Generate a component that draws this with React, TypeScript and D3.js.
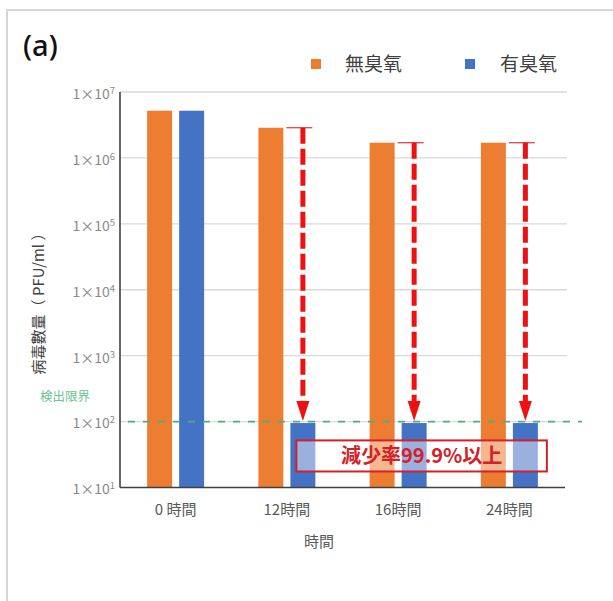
import React from "react";
import * as d3 from "d3";

const categories = ["0 時間", "12時間", "16時間", "24時間"];
const seriesNames = ["無臭氧", "有臭氧"];
const seriesColors = ["#ed7d31", "#4472c4"];
const noOzone = [5.2e6, 2.87e6, 1.7e6, 1.7e6];
const withOzone = [5.2e6, 95, 95, 95];
const yTicks = [1e1, 1e2, 1e3, 1e4, 1e5, 1e6, 1e7];
const detectionLimit = 100;
const reductionLabel = "減少率99.9%以上";
const boxRange = [51.8, 17.5];

const W = 613;
const H = 601;
const left = 120;
const right = 565;
const top = 92;
const bottom = 487.5;
const FONT = "'Noto Sans CJK JP', 'Noto Sans', sans-serif";

export default function App() {
  const x0 = d3.scaleBand<string>().domain(categories).range([left, right]).padding(0);
  const x1 = d3.scaleBand<string>().domain(seriesNames).range([-28.5, 28.5]).paddingInner(0.22);
  const y = d3.scaleLog().domain([1e1, 1e7]).range([bottom, top]);
  const center = (c: string) => (x0(c) as number) + x0.bandwidth() / 2;
  const bw = x1.bandwidth();
  const data = [noOzone, withOzone];
  const exp = (v: number) => Math.round(Math.log10(v));

  const boxX0 = (x0(categories[1]) as number) + x0.bandwidth() / 2 + (x1(seriesNames[1]) as number) + 6;
  const boxX1 = (x0(categories[3]) as number) + x0.bandwidth() / 2 + (x1(seriesNames[1]) as number) + bw + 9;
  const boxY0 = y(boxRange[0]);
  const boxY1 = y(boxRange[1]);

  return (
    <svg width={W} height={H} style={{ position: "absolute", left: 0, top: 0, background: "#fff" }} fontFamily={FONT}>
      <rect x={0} y={0} width={W} height={H} fill="#fff" />
      {/* frame */}
      <line x1={6} x2={W} y1={10} y2={10} stroke="#d6d6d6" strokeWidth={2} />
      <line x1={7} x2={7} y1={10} y2={H} stroke="#d6d6d6" strokeWidth={2} />
      <text x={23} y={56} fontSize={29} fontWeight={500} fill="#111" fontFamily="'Noto Sans', 'DejaVu Sans', sans-serif">(a)</text>

      {/* legend */}
      {seriesNames.map((s, i) => (
        <g key={s}>
          <rect x={311 + i * 154} y={59} width={10} height={10} fill={seriesColors[i]} />
          <text x={345 + i * 155} y={64} dy="0.35em" fontSize={19} fill="#404040">{s}</text>
        </g>
      ))}

      {/* gridlines */}
      {yTicks.slice(1).map((t) => (
        <line key={t} x1={left} x2={right + 2} y1={y(t)} y2={y(t)} stroke="#d9d9d9" strokeWidth={1.3} />
      ))}
      {/* y tick labels */}
      {yTicks.map((t) => (
        <text key={"l" + t} x={115} y={y(t) + 2} dy="0.35em" textAnchor="end" fontSize={14} fill="#8a8a8a">
          1×10<tspan fontSize={9.5} dy={-5}>{exp(t)}</tspan>
        </text>
      ))}

      {/* bars */}
      {categories.map((c, ci) =>
        seriesNames.map((s, si) => {
          const v = data[si][ci];
          const bx = center(c) + (x1(s) as number);
          return (
            <rect key={c + s} x={bx} y={y(v)} width={bw} height={bottom - y(v)} fill={seriesColors[si]} />
          );
        })
      )}

      {/* detection limit */}
      <line x1={128} x2={582} y1={y(detectionLimit)} y2={y(detectionLimit)} stroke="#4caf7d" strokeWidth={1.6} strokeDasharray="7 8" />
      <text x={40} y={397} dy="0.35em" fontSize={12.5} fill="#6cc495">検出限界</text>

      {/* red arrows */}
      {categories.map((c, ci) => {
        if (withOzone[ci] >= noOzone[ci]) return null;
        const bx = center(c) + (x1(seriesNames[1]) as number);
        const cx = bx + bw / 2;
        const yTop = y(noOzone[ci]);
        const tip = y(withOzone[ci]) - 2;
        return (
          <g key={"a" + c}>
            <line x1={bx - 4} x2={bx + bw - 3} y1={yTop} y2={yTop} stroke="#e8303a" strokeWidth={1.2} />
            <line x1={cx} x2={cx} y1={yTop} y2={tip - 18} stroke="#ee1111" strokeWidth={5} strokeDasharray="16 5" />
            <path d={`M${cx - 6.5},${tip - 20}L${cx + 6.5},${tip - 20}L${cx},${tip}Z`} fill="#ee1111" />
          </g>
        );
      })}

      {/* axes */}
      <line x1={left} x2={left} y1={top} y2={bottom} stroke="#404040" strokeWidth={1.6} />
      <line x1={left} x2={right} y1={bottom} y2={bottom} stroke="#404040" strokeWidth={1.6} />

      {/* box */}
      <rect x={boxX0} y={boxY0} width={boxX1 - boxX0} height={boxY1 - boxY0} fill="#fff" fillOpacity={0.45} stroke="#d42027" strokeWidth={2} />
      <text x={(boxX0 + boxX1) / 2} y={(boxY0 + boxY1) / 2} dy="0.36em" textAnchor="middle" fontSize={20} fontWeight="bold" fill="#d42027">{reductionLabel}</text>

      {/* x labels */}
      {categories.map((c) => (
        <text key={"x" + c} x={center(c)} y={510} dy="0.35em" textAnchor="middle" fontSize={15} fill="#595959">{c}</text>
      ))}
      <text x={319} y={542} dy="0.35em" textAnchor="middle" fontSize={15} fill="#595959">時間</text>

      {/* y title */}
      <text transform={`translate(39,300) rotate(-90)`} textAnchor="middle" dy="0.35em" fontSize={15} fill="#404040">病毒數量（ PFU/ml ）</text>
    </svg>
  );
}
